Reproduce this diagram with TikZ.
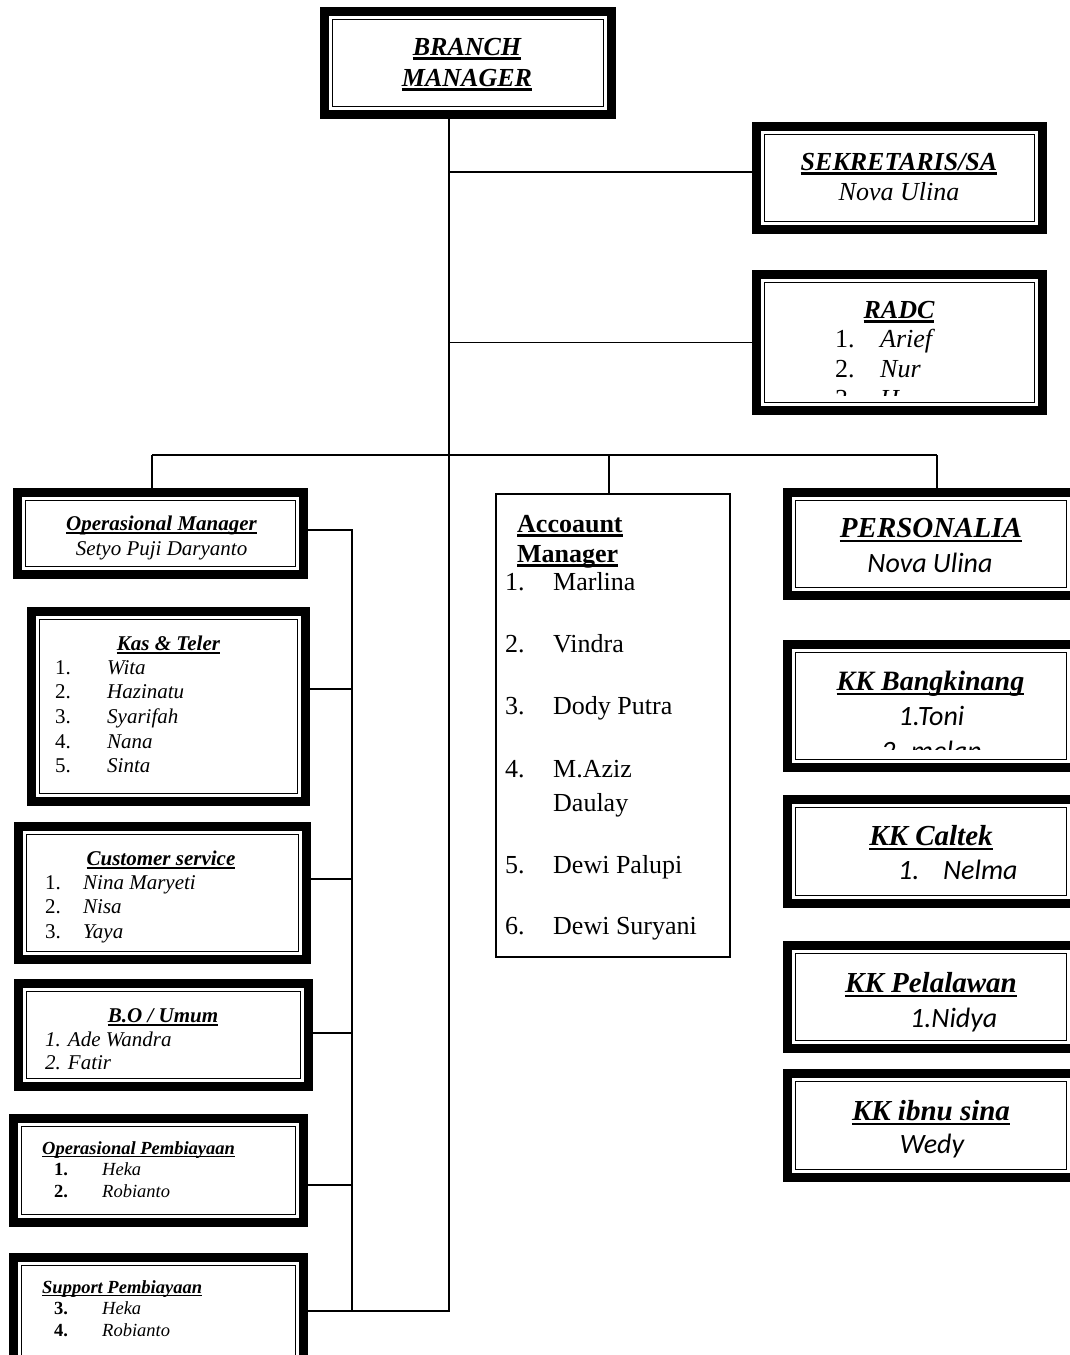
\documentclass[tikz,border=0pt]{standalone}
\usepackage{fontspec}
\setmainfont{Liberation Serif}
\newfontfamily\calib{Carlito}
\newcommand\uln[1]{\leavevmode\setbox0\hbox{#1}\rlap{\vrule width\wd0 height -0.09em depth 0.18em}\box0}

\begin{document}
\begin{tikzpicture}[
        x=1pt, y=-1pt,
        thkbox/.style 2 args={draw, line width=9pt, inner sep=0pt,
          minimum width={#1-9pt}, minimum height={#2-9pt},
          path picture={\draw[line width=1.6pt]
            ([shift={(8pt,-8pt)}]path picture bounding box.north west) rectangle
            ([shift={(-8pt,8pt)}]path picture bounding box.south east);}},
        thnbox/.style 2 args={draw, line width=1.4pt, inner sep=0pt,
          minimum width=#1, minimum height=#2},
        fs/.style 2 args={inner sep=0pt, font=\fontsize{#1}{#2}\selectfont},
        conn/.style={line width=1.4pt}]

  \path[use as bounding box, fill=white] (0,0) rectangle (1070,1355);

  % boxes ---------------------------------------------------
  \node[thkbox={296pt}{112pt}] (bm)   at (468,63)      {};
  \node[thkbox={295pt}{112pt}] (sekr) at (899.5,178)   {};
  \node[thkbox={295pt}{145pt}] (radc) at (899.5,342.5) {};
  \node[thkbox={295pt}{91pt}]  (opm)  at (160.5,533.5) {};
  \node[thkbox={283pt}{199pt}] (kas)  at (168.5,706.5) {};
  \node[thkbox={297pt}{142pt}] (cs)   at (162.5,893)   {};
  \node[thkbox={299pt}{112pt}] (bo)   at (163.5,1035)  {};
  \node[thkbox={299pt}{113pt}] (opb)  at (158.5,1170.5) {};
  \node[thkbox={299pt}{115pt}] (spb)  at (158.5,1310.5) {};
  \node[thnbox={234pt}{463pt}] (acc)  at (613,725.5)   {};
  \node[thkbox={296pt}{112pt}] (pers) at (931,544)     {};
  \node[thkbox={296pt}{132pt}] (kkb)  at (931,706)     {};
  \node[thkbox={296pt}{113pt}] (kkc)  at (931,851.5)   {};
  \node[thkbox={296pt}{112pt}] (kkp)  at (931,997)     {};
  \node[thkbox={296pt}{113pt}] (kki)  at (931,1125.5)  {};

  % texts ---------------------------------------------------
  \node[fs={26pt}{31pt}, anchor=base] (bm-t) at (467,55)
    {\bfseries\itshape\begin{tabular}[t]{@{}c@{}}\uln{BRANCH}\\\uln{MANAGER}\end{tabular}};
  \node[fs={26pt}{30pt}, anchor=base] (sekr-t) at (899,170)
    {\begin{tabular}[t]{@{}c@{}}\bfseries\itshape\uln{SEKRETARIS/SA}\\\itshape Nova Ulina\end{tabular}};

  \begin{scope}
    \clip (radc.north west) rectangle (radc.east |- 0,395);
    \node[fs={26pt}{30pt}, anchor=base] (radc-t) at (899,318) {\bfseries\itshape\uln{RADC}};
    \node[fs={26pt}{30pt}, anchor=base west] (radc-l) at (835,347)
      {\begin{tabular}[t]{@{}p{45pt}@{}l@{}}1. & \itshape Arief\\2. & \itshape Nur\\3. & \itshape H\end{tabular}};
  \end{scope}

  \node[fs={21pt}{25pt}, anchor=base] (opm-t) at (161.5,530)
    {\begin{tabular}[t]{@{}c@{}}\bfseries\itshape\uln{Operasional Manager}\\\itshape Setyo Puji Daryanto\end{tabular}};

  \node[fs={21pt}{25pt}, anchor=base] (kas-t) at (168.5,650) {\bfseries\itshape\uln{Kas \& Teler}};
  \node[fs={21pt}{24.7pt}, anchor=base west] (kas-l) at (55,674)
    {\begin{tabular}[t]{@{}p{52pt}@{}l@{}}1. & \itshape Wita\\2. & \itshape Hazinatu\\3. & \itshape Syarifah\\
      4. & \itshape Nana\\5. & \itshape Sinta\end{tabular}};

  \node[fs={21pt}{25pt}, anchor=base] (cs-t) at (161,865) {\bfseries\itshape\uln{Customer service}};
  \node[fs={21pt}{24.5pt}, anchor=base west] (cs-l) at (45,889)
    {\begin{tabular}[t]{@{}p{38pt}@{}l@{}}1. & \itshape Nina Maryeti\\2. & \itshape Nisa\\3. & \itshape Yaya\end{tabular}};

  \node[fs={21pt}{25pt}, anchor=base] (bo-t) at (163,1022) {\bfseries\itshape\uln{B.O / Umum}};
  \node[fs={21pt}{23pt}, anchor=base west] (bo-l) at (45,1046)
    {\itshape\begin{tabular}[t]{@{}l@{}}1. Ade Wandra\\2. Fatir\end{tabular}};

  \node[fs={18.5pt}{22pt}, anchor=base west] (opb-t) at (42,1154) {\bfseries\itshape\uln{Operasional Pembiayaan}};
  \node[fs={18.5pt}{22pt}, anchor=base west] (opb-l) at (54,1175)
    {\begin{tabular}[t]{@{}p{48pt}@{}l@{}}\bfseries 1. & \itshape Heka\\\bfseries 2. & \itshape Robianto\end{tabular}};

  \node[fs={18.5pt}{22pt}, anchor=base west] (spb-t) at (42,1293) {\bfseries\itshape\uln{Support Pembiayaan}};
  \node[fs={18.5pt}{22pt}, anchor=base west] (spb-l) at (54,1314)
    {\begin{tabular}[t]{@{}p{48pt}@{}l@{}}\bfseries 3. & \itshape Heka\\\bfseries 4. & \itshape Robianto\end{tabular}};

  \node[fs={26pt}{30pt}, anchor=base west] (acc-t) at (517,532)
    {\bfseries\begin{tabular}[t]{@{}l@{}}\uln{Accoaunt}\\\uln{Manager}\end{tabular}};
  \node[fs={26pt}{31pt}, anchor=base west] (acc-l) at (505,590)
    {\begin{tabular}[t]{@{}p{48pt}@{}l@{}}
      1. & Marlina\\[31pt]
      2. & Vindra\\[31pt]
      3. & Dody Putra\\[32pt]
      4. & M.Aziz\\[3pt]
         & Daulay\\[31pt]
      5. & Dewi Palupi\\[30pt]
      6. & Dewi Suryani
    \end{tabular}};

  \node[fs={29pt}{34pt}, anchor=base] (pers-t) at (931,537) {\bfseries\itshape\uln{PERSONALIA}};
  \node[fs={28pt}{34pt}, anchor=base] (pers-n) at (930,572) {\calib\itshape Nova Ulina};

  \begin{scope}
    \clip (kkb.north west) rectangle (kkb.east |- 0,749);
    \node[fs={28pt}{34pt}, anchor=base] (kkb-t) at (930.5,690) {\bfseries\itshape\uln{KK Bangkinang}};
    \node[fs={28pt}{35pt}, anchor=base] (kkb-l) at (931.5,725)
      {\calib\itshape\begin{tabular}[t]{@{}c@{}}1.Toni\\2. melan\end{tabular}};
  \end{scope}

  \node[fs={29pt}{34pt}, anchor=base] (kkc-t) at (931,845) {\bfseries\itshape\uln{KK Caltek}};
  \node[fs={28pt}{34pt}, anchor=base west] (kkc-l) at (898,879)
    {\calib\itshape\begin{tabular}[t]{@{}p{45pt}@{}l@{}}1. & Nelma\end{tabular}};

  \node[fs={29pt}{34pt}, anchor=base] (kkp-t) at (931,992) {\bfseries\itshape\uln{KK Pelalawan}};
  \node[fs={28pt}{34pt}, anchor=base west] (kkp-l) at (910,1027) {\calib\itshape 1.Nidya};

  \node[fs={29pt}{34pt}, anchor=base] (kki-t) at (931,1120) {\bfseries\itshape\uln{KK ibnu sina}};
  \node[fs={28pt}{34pt}, anchor=base] (kki-l) at (932,1153) {\calib\itshape Wedy};

  % connectors ----------------------------------------------
  \coordinate (trunk) at (449,1311);
  \coordinate (bus)   at (352,530);
  \coordinate (barL)  at (152,455);
  \coordinate (barM)  at (609,455);
  \coordinate (barR)  at (937,455);

  \draw[conn] (bm.south -| trunk) -- (trunk) -- (trunk -| spb.east);
  \draw[conn] (trunk |- 0,172) -- (sekr.west |- 0,172);
  \draw[conn] (trunk |- radc.west) -- (radc.west);
  \draw[conn] (barL) -- (barR);
  \draw[conn] (barL) -- (barL |- opm.north);
  \draw[conn] (barM) -- (barM |- acc.north);
  \draw[conn] (barR) -- (barR |- pers.north);

  \draw[conn] (opm.east |- bus) -- (bus) -- (bus |- trunk);
  \draw[conn] (kas.east |- 0,689) -- (bus |- 0,689);
  \draw[conn] (cs.east |- 0,879) -- (bus |- 0,879);
  \draw[conn] (bo.east |- 0,1033) -- (bus |- 0,1033);
  \draw[conn] (opb.east |- 0,1185) -- (bus |- 0,1185);

\end{tikzpicture}
\end{document}
